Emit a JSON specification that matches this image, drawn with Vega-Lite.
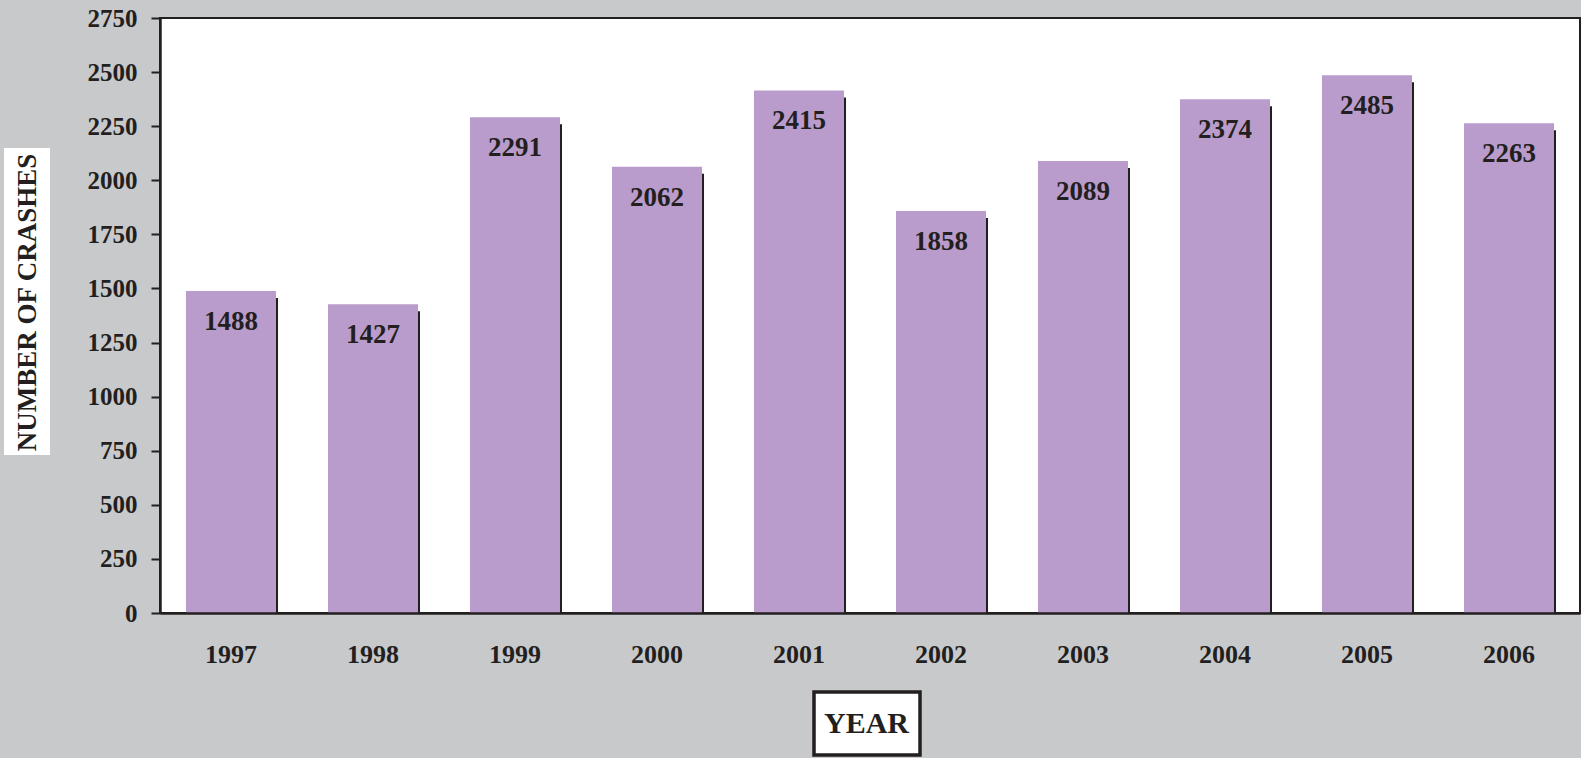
{
  "$schema": "https://vega.github.io/schema/vega-lite/v6.json",
  "width": 1420,
  "height": 595,
  "autosize": {"type": "none"},
  "padding": {"left": 160, "top": 18, "right": 1, "bottom": 145},
  "background": "#c8c9cb",
  "config": {
    "view": {"fill": "white", "stroke": "#231f20", "strokeWidth": 2},
    "font": "Liberation Serif"
  },
  "data": {
    "values": [
      {"year": "1997", "crashes": 1488},
      {"year": "1998", "crashes": 1427},
      {"year": "1999", "crashes": 2291},
      {"year": "2000", "crashes": 2062},
      {"year": "2001", "crashes": 2415},
      {"year": "2002", "crashes": 1858},
      {"year": "2003", "crashes": 2089},
      {"year": "2004", "crashes": 2374},
      {"year": "2005", "crashes": 2485},
      {"year": "2006", "crashes": 2263}
    ]
  },
  "encoding": {
    "x": {
      "field": "year",
      "type": "ordinal",
      "scale": {"paddingInner": 0.366, "paddingOuter": 0.183},
      "axis": {
        "title": null,
        "ticks": false,
        "tickSize": 0,
        "labelAngle": 0,
        "labelBaseline": "alphabetic",
        "labelPadding": 49,
        "labelFont": "Liberation Serif",
        "labelFontSize": 26,
        "labelFontWeight": "bold",
        "labelColor": "#231f20",
        "domainColor": "#231f20",
        "domainWidth": 2.5,
        "zindex": 1
      }
    },
    "y": {
      "field": "crashes",
      "type": "quantitative",
      "scale": {"domain": [0, 2750], "nice": false},
      "axis": {
        "title": "NUMBER OF CRASHES",
        "titleX": -133,
        "titleY": 284,
        "titleAngle": 270,
        "titleAlign": "center",
        "titleBaseline": "middle",
        "titleFont": "Liberation Serif",
        "titleFontSize": 27,
        "titleFontWeight": "bold",
        "titleColor": "#231f20",
        "titleLimit": 400,
        "format": "d",
        "values": [0, 250, 500, 750, 1000, 1250, 1500, 1750, 2000, 2250, 2500, 2750],
        "grid": false,
        "domainColor": "#231f20",
        "domainWidth": 2.5,
        "tickColor": "#231f20",
        "tickWidth": 2,
        "tickSize": 9,
        "labelFont": "Liberation Serif",
        "labelFontSize": 25,
        "labelFontWeight": "bold",
        "labelColor": "#231f20",
        "labelPadding": 14,
        "labelFlush": false,
        "labelOverlap": false,
        "zindex": 1
      }
    }
  },
  "layer": [
    {
      "mark": {"type": "bar", "xOffset": 2, "yOffset": 7, "clip": true},
      "encoding": {
        "color": {
          "datum": "YEAR",
          "type": "nominal",
          "scale": {"range": ["#231f20"]},
          "legend": {
            "orient": "none",
            "legendX": 654,
            "legendY": 674,
            "title": null,
            "fillColor": "white",
            "strokeColor": "#231f20",
            "padding": 10,
            "symbolSize": 1849,
            "symbolOpacity": 0,
            "symbolStrokeWidth": 0,
            "labelOffset": -43,
            "labelFont": "Liberation Serif",
            "labelFontSize": 30,
            "labelFontWeight": "bold",
            "labelColor": "#231f20",
            "labelBaseline": "middle",
            "zindex": 0,
            "encode": {"legend": {"update": {"strokeWidth": {"value": 3.5}}}}
          }
        }
      }
    },
    {
      "mark": {"type": "bar", "color": "#b99ccb", "strokeWidth": 0},
      "encoding": {
        "stroke": {
          "datum": 1,
          "type": "quantitative",
          "scale": {"domain": [0, 1], "range": ["white", "white"]},
          "legend": {
            "orient": "none",
            "legendX": -156,
            "legendY": 130,
            "direction": "vertical",
            "title": null,
            "gradientLength": 307,
            "gradientThickness": 46,
            "gradientStrokeWidth": 0,
            "labelOpacity": 0,
            "labelFontSize": 1,
            "padding": 0,
            "zindex": 0
          }
        }
      }
    },
    {
      "mark": {
        "type": "text",
        "baseline": "alphabetic",
        "dy": 39,
        "font": "Liberation Serif",
        "fontSize": 27,
        "fontWeight": "bold",
        "color": "#231f20"
      },
      "encoding": {"text": {"field": "crashes", "type": "quantitative"}}
    }
  ]
}
